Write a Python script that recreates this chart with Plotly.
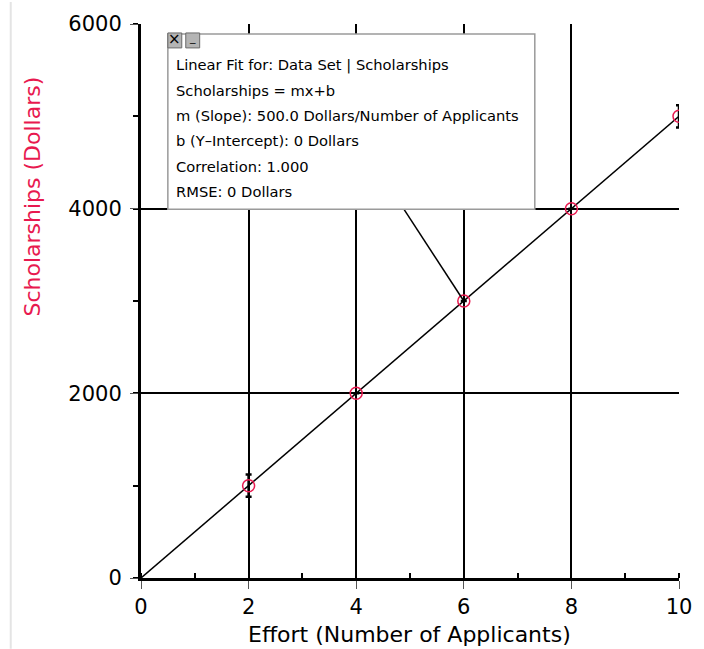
import plotly.graph_objects as go

# Data set: effort vs. scholarships
applicants = [2, 4, 6, 8, 10]
scholarships = [1000, 2000, 3000, 4000, 5000]
scholarship_err = [120, None, None, None, 120]

# Linear fit results
fit_slope = 500.0
fit_intercept = 0.0
fit_corr = 1.000
fit_rmse = 0
fit_x = [0, 10]
fit_y = [fit_slope * x + fit_intercept for x in fit_x]

x_ticks = [0, 2, 4, 6, 8, 10]
y_ticks = [0, 2000, 4000, 6000]

RED = "#e8194f"
FONT = "DejaVu Sans"

W, H = 704, 649
L, R, T, B = 141, 22, 22, 71
PW, PH = W - L - R, H - T - B


def px(x):
    return (x - L) / PW


def py(y):
    return (H - B - y) / PH


fig = go.Figure()

fig.add_trace(go.Scatter(
    x=fit_x, y=fit_y, mode="lines",
    line=dict(color="black", width=1.5),
    hoverinfo="skip", showlegend=False,
))

fig.add_trace(go.Scatter(
    x=applicants, y=scholarships, mode="markers",
    marker=dict(symbol="circle-open", size=12, color=RED, line=dict(width=1.5, color=RED)),
    error_y=dict(type="data", array=scholarship_err, visible=True,
                 color="black", thickness=2.5, width=3),
    showlegend=False,
))

shapes = []
annotations = []

# faint page edge on the left
shapes.append(dict(type="line", xref="paper", yref="paper",
                   x0=px(10), x1=px(10), y0=py(0), y1=py(H),
                   line=dict(color="#e4e4e4", width=2), layer="below"))

# leader from the fit box to the point it describes
shapes.append(dict(type="line", xref="x", yref="y",
                   x0=4.88, y0=4000, x1=applicants[2], y1=scholarships[2],
                   line=dict(color="black", width=1.5)))

# fit result box
bx0, bx1, by0, by1 = 168, 537, 32, 208
shapes.append(dict(type="rect", xref="paper", yref="paper",
                   x0=px(bx0), x1=px(bx1), y0=py(by1), y1=py(by0),
                   fillcolor="white", line=dict(color="#9a9a9a", width=1.5)))

# close / minimise buttons
for x0, x1, label in [(168, 182, "×"), (186, 200, "_")]:
    shapes.append(dict(type="rect", xref="paper", yref="paper",
                       x0=px(x0), x1=px(x1), y0=py(46), y1=py(31),
                       fillcolor="#b4b4b4", line=dict(color="#6a6a6a", width=1)))
    annotations.append(dict(xref="paper", yref="paper", x=px((x0 + x1) / 2),
                            y=py(37.5 if label == "×" else 36), text=label,
                            showarrow=False, xanchor="center", yanchor="middle",
                            font=dict(family=FONT, size=15 if label == "×" else 11,
                                      color="black")))

box_lines = [
    "Linear Fit for: Data Set | Scholarships",
    "Scholarships = mx+b",
    f"m (Slope): {fit_slope:.1f} Dollars/Number of Applicants",
    f"b (Y\u2013Intercept): {fit_intercept:.0f} Dollars",
    f"Correlation: {fit_corr:.3f}",
    f"RMSE: {fit_rmse} Dollars",
]
for i, line in enumerate(box_lines):
    annotations.append(dict(xref="paper", yref="paper", x=px(174), y=py(63 + 25.4 * i),
                            text=line, showarrow=False, xanchor="left", yanchor="middle",
                            font=dict(family=FONT, size=14.7, color="black")))

# axis titles
annotations.append(dict(xref="paper", yref="paper", x=px(411), y=py(635),
                        text="Effort (Number of Applicants)", showarrow=False,
                        xanchor="center", yanchor="middle",
                        font=dict(family=FONT, size=22, color="black")))
annotations.append(dict(xref="paper", yref="paper", x=px(32), y=py(318),
                        text="Scholarships (Dollars)", showarrow=False, textangle=-90,
                        xanchor="center", yanchor="bottom",
                        font=dict(family=FONT, size=22, color=RED)))

axis_common = dict(
    showgrid=True, gridcolor="black", gridwidth=1.5,
    showline=True, linecolor="black", linewidth=3,
    ticks="outside", ticklen=8, tickwidth=1, tickcolor="#555555",
    tickfont=dict(family=FONT, size=21, color="black"),
    zeroline=False, fixedrange=True,
)

fig.update_layout(
    width=W, height=H,
    margin=dict(l=L, r=R, t=T, b=B),
    paper_bgcolor="white", plot_bgcolor="white",
    xaxis=dict(range=[0, 10], tickvals=x_ticks, ticklabelstandoff=0,
               minor=dict(dtick=1, tick0=0, ticks="inside", ticklen=5, tickwidth=2,
                          tickcolor="black", showgrid=False),
               **axis_common),
    yaxis=dict(range=[0, 6000], tickvals=y_ticks, ticklabelstandoff=4,
               minor=dict(dtick=1000, tick0=0, ticks="outside", ticklen=5, tickwidth=2,
                          tickcolor="black", showgrid=False),
               **axis_common),
    shapes=shapes,
    annotations=annotations,
    showlegend=False,
)

fig.write_html("out.html")
